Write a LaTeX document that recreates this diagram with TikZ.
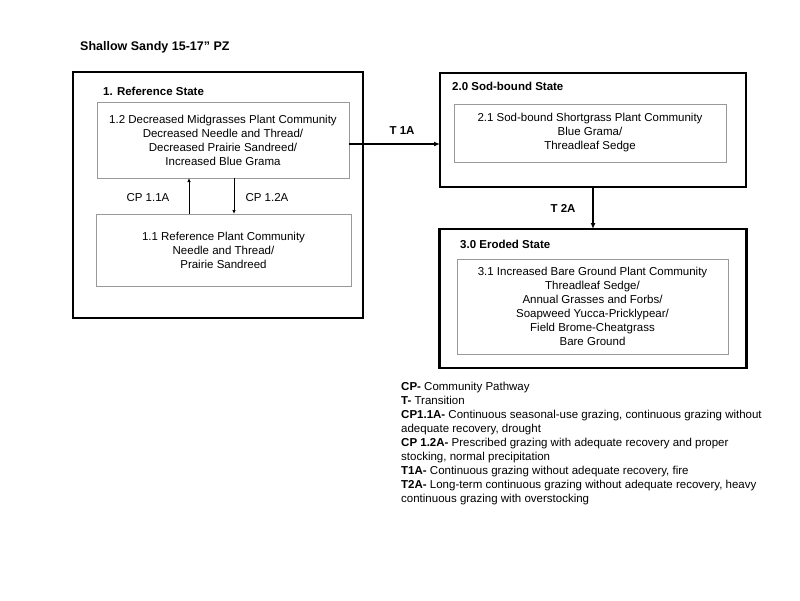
\documentclass[tikz,border=0pt]{standalone}
\usepackage{fontspec}
\setmainfont{Liberation Sans}
\usetikzlibrary{arrows.meta}

\tikzset{
  statebox/.style={draw, line width=2.5pt, inner sep=0pt, outer sep=0pt, anchor=center},
  commbox/.style={draw=gray!80, line width=0.8pt, inner sep=0pt, outer sep=0pt, align=center,
    font=\fontsize{11.5}{14}\selectfont},
  statelabel/.style={anchor=west, inner sep=0pt, font=\fontsize{11.5}{14}\selectfont\bfseries},
  pathlabel/.style={inner sep=0pt, font=\fontsize{11.5}{14}\selectfont},
  pathway/.style={-{Latex[length=4pt,width=3.5pt]}, line width=0.8pt},
  transition/.style={-{Latex[length=6pt,width=5pt]}, line width=2pt}
}

\begin{document}
\begin{tikzpicture}[x=1pt, y=-1pt]
    \useasboundingbox (0,0) rectangle (800,600);

    % Title
    \node[statelabel, font=\fontsize{12.5}{14}\selectfont\bfseries] (title) at (80,47) {Shallow Sandy 15-17” PZ};

    % Reference state with its two plant communities
    \node[statebox, minimum width=290pt, minimum height=246pt] (ref) at (218,195) {};
    \node[statelabel] (reflabel) at (103,91) {1. Reference State};
    \node[commbox, minimum width=252pt, minimum height=76pt] (c12) at (223,140)
        {1.2 Decreased Midgrasses Plant Community\\Decreased Needle and Thread/\\
         Decreased Prairie Sandreed/\\Increased Blue Grama};
    \node[commbox, minimum width=255pt, minimum height=72pt] (c11) at (223.5,250)
        {1.1 Reference Plant Community\\Needle and Thread/\\Prairie Sandreed};

    % Community pathways
    \draw[pathway] (c11.north -| 189,0) -- (c12.south -| 189,0);
    \draw[pathway] (c12.south -| 234,0) -- (c11.north -| 234,0);
    \node[pathlabel] (cp11) at (148,198) {CP 1.1A};
    \node[pathlabel] (cp12) at (267,198) {CP 1.2A};

    % Sod-bound state
    \node[statebox, minimum width=306pt, minimum height=114pt] (sod) at (593,130) {};
    \node[statelabel] (sodlabel) at (452,86) {2.0 Sod-bound State};
    \node[commbox, minimum width=272pt, minimum height=58pt] (c21) at (590,133)
        {2.1 Sod-bound Shortgrass Plant Community\\Blue Grama/\\Threadleaf Sedge};

    % Eroded state
    \node[statebox, minimum width=307pt, minimum height=139pt] (ero) at (593,298.5) {};
    \node[statelabel] (erolabel) at (460,244) {3.0 Eroded State};
    \node[commbox, minimum width=271pt, minimum height=95pt] (c31) at (592.5,306.5)
        {3.1 Increased Bare Ground Plant Community\\Threadleaf Sedge/\\
         Annual Grasses and Forbs/\\Soapweed Yucca-Pricklypear/\\
         Field Brome-Cheatgrass\\Bare Ground};

    % Transitions
    \draw[transition] ([yshift=-4pt]c12.east) -- ([yshift=-4pt]c12.east -| sod.west);
    \node[pathlabel, font=\fontsize{11.5}{14}\selectfont\bfseries] (t1a) at (402,131) {T 1A};
    \draw[transition] (sod.south) -- (ero.north);
    \node[pathlabel, font=\fontsize{11.5}{14}\selectfont\bfseries] (t2a) at (563,208) {T 2A};

    % Legend
    \node[anchor=north west, inner sep=0pt, align=left,
          font=\fontsize{11.5}{14}\selectfont] (legend) at (401,382)
        {\textbf{CP-} Community Pathway\\
         \textbf{T-} Transition\\
         \textbf{CP1.1A-} Continuous seasonal-use grazing, continuous grazing without\\
         adequate recovery, drought\\
         \textbf{CP 1.2A-} Prescribed grazing with adequate recovery and proper\\
         stocking, normal precipitation\\
         \textbf{T1A-} Continuous grazing without adequate recovery, fire\\
         \textbf{T2A-} Long-term continuous grazing without adequate recovery, heavy\\
         continuous grazing with overstocking};

\end{tikzpicture}
\end{document}
